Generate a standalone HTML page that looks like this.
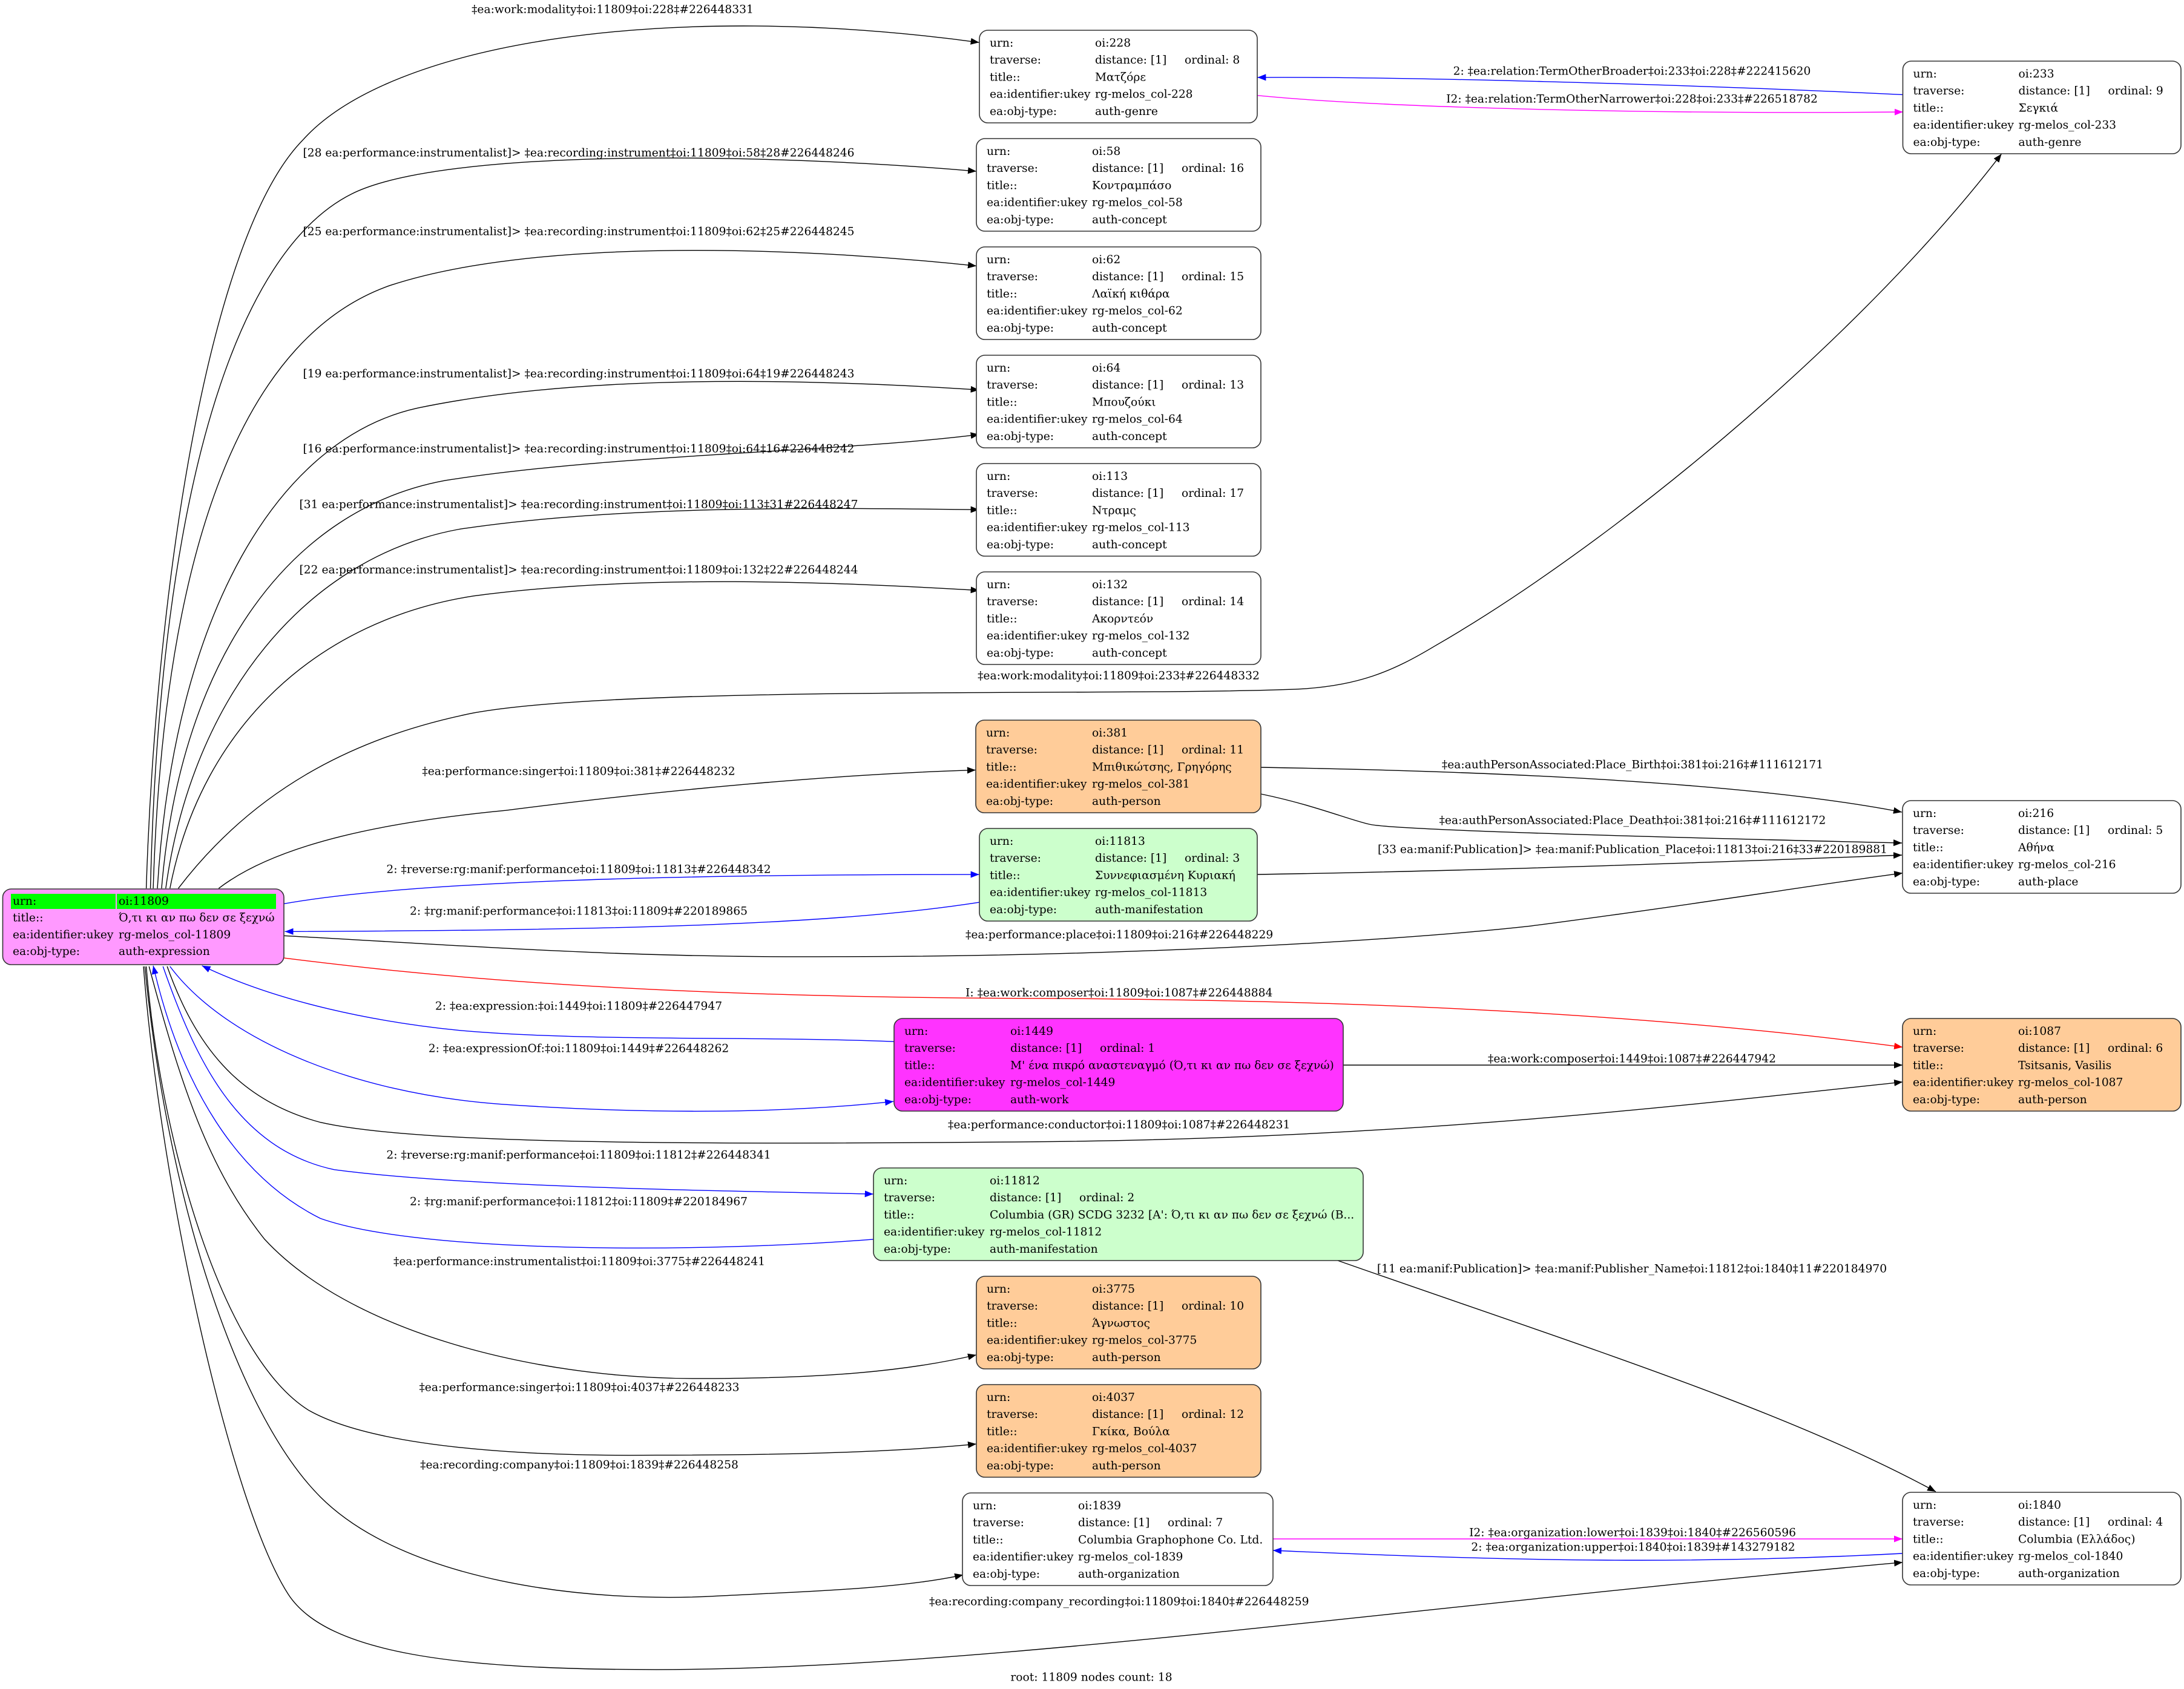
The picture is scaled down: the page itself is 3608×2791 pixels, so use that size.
<!DOCTYPE html>
<html>
<head>
<meta charset="utf-8">
<style>
html,body{margin:0;padding:0;background:#fff;}
svg{display:block;}
text{font-family:"DejaVu Serif","Liberation Serif","Noto Serif CJK SC",serif;font-size:18.67px;fill:#000;}
.lm{text-anchor:middle;}
</style>
</head>
<body>
<svg xmlns="http://www.w3.org/2000/svg" width="3608" height="2791" viewBox="0 0 3608 2791">
<defs>
<marker id="ak" viewBox="0 0 14 11" refX="14" refY="5.5" markerWidth="14" markerHeight="11" orient="auto" markerUnits="userSpaceOnUse"><path d="M0,0 L14,5.5 L0,11 z" fill="#000"/></marker>
<marker id="ab" viewBox="0 0 14 11" refX="14" refY="5.5" markerWidth="14" markerHeight="11" orient="auto" markerUnits="userSpaceOnUse"><path d="M0,0 L14,5.5 L0,11 z" fill="#0000ff"/></marker>
<marker id="am" viewBox="0 0 14 11" refX="14" refY="5.5" markerWidth="14" markerHeight="11" orient="auto" markerUnits="userSpaceOnUse"><path d="M0,0 L14,5.5 L0,11 z" fill="#ff00ff"/></marker>
<marker id="sk" viewBox="0 0 14 11" refX="14" refY="5.5" markerWidth="6.08" markerHeight="4.78" orient="auto" markerUnits="userSpaceOnUse"><path d="M0,0 L14,5.5 L0,11 z" fill="#000"/></marker>
<marker id="sb" viewBox="0 0 14 11" refX="14" refY="5.5" markerWidth="6.08" markerHeight="4.78" orient="auto" markerUnits="userSpaceOnUse"><path d="M0,0 L14,5.5 L0,11 z" fill="#0000ff"/></marker>
<marker id="sm" viewBox="0 0 14 11" refX="14" refY="5.5" markerWidth="6.08" markerHeight="4.78" orient="auto" markerUnits="userSpaceOnUse"><path d="M0,0 L14,5.5 L0,11 z" fill="#ff00ff"/></marker>
<marker id="sr" viewBox="0 0 14 11" refX="14" refY="5.5" markerWidth="6.08" markerHeight="4.78" orient="auto" markerUnits="userSpaceOnUse"><path d="M0,0 L14,5.5 L0,11 z" fill="#ff0000"/></marker>
</defs>

<!-- ============ EDGES (display coords, scaled) ============ -->
<g transform="scale(2.301)" fill="none" stroke-width="0.6">
  <!-- upper fan -->
  <path stroke="#000" marker-end="url(#sk)" d="M105,638 C 112,420 150,170 217,101 C 280,30 480,0 703,30.5"/>
  <path stroke="#000" marker-end="url(#sk)" d="M108,638 C 115,350 170,180 253,139 C 320,106 550,110 701,123"/>
  <path stroke="#000" marker-end="url(#sk)" d="M110,638 C 118,380 180,240 280,205 C 380,172 560,176 701,191"/>
  <path stroke="#000" marker-end="url(#sk)" d="M113,638 C 125,440 200,315 300,293 C 420,268 580,272 703,280"/>
  <path stroke="#000" marker-end="url(#sk)" d="M116,638 C 130,470 210,365 320,345 C 440,326 600,325 703,312"/>
  <path stroke="#000" marker-end="url(#sk)" d="M119,638 C 138,500 220,400 330,380 C 450,362 600,365 703,366"/>
  <path stroke="#000" marker-end="url(#sk)" d="M122,638 C 145,520 230,445 340,428 C 460,412 600,418 703,424"/>
  <path stroke="#000" marker-end="url(#sk)" d="M128,638 C 180,570 250,530 340,512 C 450,492 800,500 930,495 C 975,493 1000,482 1030,464 C 1150,395 1330,250 1437,110.5"/>
  <path stroke="#000" marker-end="url(#sk)" d="M157,638 C 200,605 280,590 363,582 C 480,567 600,556 700.5,553"/>
  <!-- right side of main -->
  <path stroke="#0000ff" marker-end="url(#sb)" d="M204,649 C 300,632 500,628 703,628"/>
  <path stroke="#0000ff" marker-end="url(#sb)" d="M703,648 C 600,664 450,668 204.5,669"/>
  <path stroke="#000" marker-end="url(#sk)" d="M204,672 C 350,680 450,688 600,687 C 800,687 1000,676 1099,665 C 1200,652 1300,636 1366,627"/>
  <path stroke="#ff0000" marker-end="url(#sr)" d="M204,688 C 300,700 450,716 740,717 C 1000,718 1200,730 1366,752"/>
  <!-- lower fan -->
  <path stroke="#0000ff" marker-end="url(#sb)" d="M642,748 C 540,744 420,748 330,740 C 270,734 200,720 145,693.5"/>
  <path stroke="#0000ff" marker-end="url(#sb)" d="M122,694 C 160,745 250,785 360,793 C 460,800 560,800 641.5,791"/>
  <path stroke="#000" marker-end="url(#sk)" d="M120,694 C 140,750 170,790 230,806 C 300,822 500,822 740,820 C 1000,818 1200,795 1366,777"/>
  <path stroke="#0000ff" marker-end="url(#sb)" d="M117,694 C 140,760 170,825 240,840 C 330,852 500,855 627,857.5"/>
  <path stroke="#0000ff" marker-end="url(#sb)" d="M627,890 C 500,900 300,900 230,875 C 170,845 130,780 110,693.5"/>
  <path stroke="#000" marker-end="url(#sk)" d="M107,694 C 130,780 150,840 190,890 C 250,955 380,990 500,990 C 590,990 650,985 701,973"/>
  <path stroke="#000" marker-end="url(#sk)" d="M105,694 C 115,820 160,975 222,1013 C 270,1040 380,1046 471,1045 C 580,1045 650,1042 701,1037"/>
  <path stroke="#000" marker-end="url(#sk)" d="M104,694 C 120,860 170,1015 230,1075 C 290,1135 420,1152 518,1146 C 600,1142 650,1140 691.5,1131"/>
  <path stroke="#000" marker-end="url(#sk)" d="M103,694 C 115,850 165,1080 207,1145 C 235,1188 330,1199 471,1199 C 700,1199 1000,1155 1366,1122"/>
  <!-- 228 / 233 -->
  <path stroke="#0000ff" marker-end="url(#sb)" d="M1366,68 C 1200,60 1000,55 902.8,55.6"/>
  <path stroke="#ff00ff" marker-end="url(#sm)" d="M903,68.6 C 1000,78 1200,82 1366.3,80.4"/>
</g>

<!-- edges in original coords -->
<g fill="none" stroke-width="1.4">
  <path stroke="#000" marker-end="url(#ak)" d="M2083,1268 C 2500,1275 2900,1295 3142,1342"/>
  <path stroke="#000" marker-end="url(#ak)" d="M2083,1312 C 2170,1330 2230,1355 2262,1362 C 2300,1372 2800,1385 3142,1393"/>
  <path stroke="#000" marker-end="url(#ak)" d="M2077,1445 C 2500,1438 2900,1422 3142,1413"/>
  <path stroke="#000" marker-end="url(#ak)" d="M2219,1760 L3143,1760"/>
  <path stroke="#000" marker-end="url(#ak)" d="M2210,2083 C 2600,2220 2950,2330 3198,2465"/>
  <path stroke="#ff00ff" marker-end="url(#am)" d="M2103,2543 L3143,2543"/>
  <path stroke="#0000ff" marker-end="url(#ab)" d="M3143,2567 C 2800,2585 2500,2580 2103,2562"/>
</g>

<!-- ============ NODES ============ -->
<g stroke="#333" stroke-width="1.6">
<!-- main 11809 -->
<g transform="translate(4.5,1469)">
  <rect x="0" y="0" width="464.5" height="125" rx="14" fill="#ff99ff"/>
  <rect x="13.5" y="8" width="173" height="25" fill="#00ff00" stroke="none"/>
  <rect x="188.5" y="8" width="263" height="25" fill="#00ff00" stroke="none"/>
</g>
<rect x="1618" y="50" width="459" height="153" rx="14" fill="#fff"/>
<rect x="1613" y="229" width="470" height="153" rx="14" fill="#fff"/>
<rect x="1613" y="408" width="470" height="153" rx="14" fill="#fff"/>
<rect x="1613" y="587" width="470" height="153" rx="14" fill="#fff"/>
<rect x="1613" y="766" width="470" height="153" rx="14" fill="#fff"/>
<rect x="1613" y="945" width="470" height="153" rx="14" fill="#fff"/>
<rect x="1612" y="1190" width="471" height="153" rx="14" fill="#ffcc99"/>
<rect x="1618" y="1369" width="459" height="153" rx="14" fill="#ccffcc"/>
<rect x="1477" y="1683" width="742" height="153" rx="14" fill="#ff33ff"/>
<rect x="1443" y="1930" width="809" height="153" rx="14" fill="#ccffcc"/>
<rect x="1613" y="2109" width="470" height="153" rx="14" fill="#ffcc99"/>
<rect x="1613" y="2288" width="470" height="153" rx="14" fill="#ffcc99"/>
<rect x="1590" y="2467" width="513" height="153" rx="14" fill="#fff"/>
<rect x="3143.5" y="101" width="459.5" height="153" rx="14" fill="#fff"/>
<rect x="3143" y="1323" width="460" height="153" rx="14" fill="#fff"/>
<rect x="3143" y="1683" width="460" height="153" rx="14" fill="#ffcc99"/>
<rect x="3143" y="2466" width="460" height="153" rx="14" fill="#fff"/>
</g>

<!-- main 11809 text -->
<g transform="translate(4.5,1469)">
  <text x="16.5" y="26">urn:</text><text x="191.5" y="26">oi:11809</text>
  <text x="16.5" y="53.7">title::</text><text x="191.5" y="53.7">Ό,τι κι αν πω δεν σε ξεχνώ</text>
  <text x="16.5" y="81.4">ea:identifier:ukey</text><text x="191.5" y="81.4">rg-melos_col-11809</text>
  <text x="16.5" y="109">ea:obj-type:</text><text x="191.5" y="109">auth-expression</text>
</g>

<!-- 228 -->
<g transform="translate(1618,50)">
  <text x="17" y="27">urn:</text><text x="191" y="27">oi:228</text>
  <text x="17" y="55.2">traverse:</text><text x="191" y="55.2">distance: [1]</text><text x="339" y="55.2">ordinal: 8</text>
  <text x="17" y="83.4">title::</text><text x="191" y="83.4">Ματζόρε</text>
  <text x="17" y="111.6">ea:identifier:ukey</text><text x="191" y="111.6">rg-melos_col-228</text>
  <text x="17" y="139.8">ea:obj-type:</text><text x="191" y="139.8">auth-genre</text>
</g>

<!-- 58 -->
<g transform="translate(1613,229)">
  <text x="17" y="27">urn:</text><text x="191" y="27">oi:58</text>
  <text x="17" y="55.2">traverse:</text><text x="191" y="55.2">distance: [1]</text><text x="339" y="55.2">ordinal: 16</text>
  <text x="17" y="83.4">title::</text><text x="191" y="83.4">Κοντραμπάσο</text>
  <text x="17" y="111.6">ea:identifier:ukey</text><text x="191" y="111.6">rg-melos_col-58</text>
  <text x="17" y="139.8">ea:obj-type:</text><text x="191" y="139.8">auth-concept</text>
</g>

<!-- 62 -->
<g transform="translate(1613,408)">
  <text x="17" y="27">urn:</text><text x="191" y="27">oi:62</text>
  <text x="17" y="55.2">traverse:</text><text x="191" y="55.2">distance: [1]</text><text x="339" y="55.2">ordinal: 15</text>
  <text x="17" y="83.4">title::</text><text x="191" y="83.4">Λαϊκή κιθάρα</text>
  <text x="17" y="111.6">ea:identifier:ukey</text><text x="191" y="111.6">rg-melos_col-62</text>
  <text x="17" y="139.8">ea:obj-type:</text><text x="191" y="139.8">auth-concept</text>
</g>

<!-- 64 -->
<g transform="translate(1613,587)">
  <text x="17" y="27">urn:</text><text x="191" y="27">oi:64</text>
  <text x="17" y="55.2">traverse:</text><text x="191" y="55.2">distance: [1]</text><text x="339" y="55.2">ordinal: 13</text>
  <text x="17" y="83.4">title::</text><text x="191" y="83.4">Μπουζούκι</text>
  <text x="17" y="111.6">ea:identifier:ukey</text><text x="191" y="111.6">rg-melos_col-64</text>
  <text x="17" y="139.8">ea:obj-type:</text><text x="191" y="139.8">auth-concept</text>
</g>

<!-- 113 -->
<g transform="translate(1613,766)">
  <text x="17" y="27">urn:</text><text x="191" y="27">oi:113</text>
  <text x="17" y="55.2">traverse:</text><text x="191" y="55.2">distance: [1]</text><text x="339" y="55.2">ordinal: 17</text>
  <text x="17" y="83.4">title::</text><text x="191" y="83.4">Ντραμς</text>
  <text x="17" y="111.6">ea:identifier:ukey</text><text x="191" y="111.6">rg-melos_col-113</text>
  <text x="17" y="139.8">ea:obj-type:</text><text x="191" y="139.8">auth-concept</text>
</g>

<!-- 132 -->
<g transform="translate(1613,945)">
  <text x="17" y="27">urn:</text><text x="191" y="27">oi:132</text>
  <text x="17" y="55.2">traverse:</text><text x="191" y="55.2">distance: [1]</text><text x="339" y="55.2">ordinal: 14</text>
  <text x="17" y="83.4">title::</text><text x="191" y="83.4">Ακορντεόν</text>
  <text x="17" y="111.6">ea:identifier:ukey</text><text x="191" y="111.6">rg-melos_col-132</text>
  <text x="17" y="139.8">ea:obj-type:</text><text x="191" y="139.8">auth-concept</text>
</g>

<!-- 381 -->
<g transform="translate(1612,1190)">
  <text x="17" y="27">urn:</text><text x="192" y="27">oi:381</text>
  <text x="17" y="55.2">traverse:</text><text x="192" y="55.2">distance: [1]</text><text x="340" y="55.2">ordinal: 11</text>
  <text x="17" y="83.4">title::</text><text x="192" y="83.4">Μπιθικώτσης, Γρηγόρης</text>
  <text x="17" y="111.6">ea:identifier:ukey</text><text x="192" y="111.6">rg-melos_col-381</text>
  <text x="17" y="139.8">ea:obj-type:</text><text x="192" y="139.8">auth-person</text>
</g>

<!-- 11813 -->
<g transform="translate(1618,1369)">
  <text x="17" y="27">urn:</text><text x="191" y="27">oi:11813</text>
  <text x="17" y="55.2">traverse:</text><text x="191" y="55.2">distance: [1]</text><text x="339" y="55.2">ordinal: 3</text>
  <text x="17" y="83.4">title::</text><text x="191" y="83.4">Συννεφιασμένη Κυριακή</text>
  <text x="17" y="111.6">ea:identifier:ukey</text><text x="191" y="111.6">rg-melos_col-11813</text>
  <text x="17" y="139.8">ea:obj-type:</text><text x="191" y="139.8">auth-manifestation</text>
</g>

<!-- 1449 -->
<g transform="translate(1477,1683)">
  <text x="17" y="27">urn:</text><text x="192" y="27">oi:1449</text>
  <text x="17" y="55.2">traverse:</text><text x="192" y="55.2">distance: [1]</text><text x="340" y="55.2">ordinal: 1</text>
  <text x="17" y="83.4">title::</text><text x="192" y="83.4">Μ' ένα πικρό αναστεναγμό (Ό,τι κι αν πω δεν σε ξεχνώ)</text>
  <text x="17" y="111.6">ea:identifier:ukey</text><text x="192" y="111.6">rg-melos_col-1449</text>
  <text x="17" y="139.8">ea:obj-type:</text><text x="192" y="139.8">auth-work</text>
</g>

<!-- 11812 -->
<g transform="translate(1443,1930)">
  <text x="17" y="27">urn:</text><text x="192" y="27">oi:11812</text>
  <text x="17" y="55.2">traverse:</text><text x="192" y="55.2">distance: [1]</text><text x="340" y="55.2">ordinal: 2</text>
  <text x="17" y="83.4">title::</text><text x="192" y="83.4">Columbia (GR) SCDG 3232 [A': Ό,τι κι αν πω δεν σε ξεχνώ (B...</text>
  <text x="17" y="111.6">ea:identifier:ukey</text><text x="192" y="111.6">rg-melos_col-11812</text>
  <text x="17" y="139.8">ea:obj-type:</text><text x="192" y="139.8">auth-manifestation</text>
</g>

<!-- 3775 -->
<g transform="translate(1613,2109)">
  <text x="17" y="27">urn:</text><text x="191" y="27">oi:3775</text>
  <text x="17" y="55.2">traverse:</text><text x="191" y="55.2">distance: [1]</text><text x="339" y="55.2">ordinal: 10</text>
  <text x="17" y="83.4">title::</text><text x="191" y="83.4">Άγνωστος</text>
  <text x="17" y="111.6">ea:identifier:ukey</text><text x="191" y="111.6">rg-melos_col-3775</text>
  <text x="17" y="139.8">ea:obj-type:</text><text x="191" y="139.8">auth-person</text>
</g>

<!-- 4037 -->
<g transform="translate(1613,2288)">
  <text x="17" y="27">urn:</text><text x="191" y="27">oi:4037</text>
  <text x="17" y="55.2">traverse:</text><text x="191" y="55.2">distance: [1]</text><text x="339" y="55.2">ordinal: 12</text>
  <text x="17" y="83.4">title::</text><text x="191" y="83.4">Γκίκα, Βούλα</text>
  <text x="17" y="111.6">ea:identifier:ukey</text><text x="191" y="111.6">rg-melos_col-4037</text>
  <text x="17" y="139.8">ea:obj-type:</text><text x="191" y="139.8">auth-person</text>
</g>

<!-- 1839 -->
<g transform="translate(1590,2467)">
  <text x="17" y="27">urn:</text><text x="191" y="27">oi:1839</text>
  <text x="17" y="55.2">traverse:</text><text x="191" y="55.2">distance: [1]</text><text x="339" y="55.2">ordinal: 7</text>
  <text x="17" y="83.4">title::</text><text x="191" y="83.4">Columbia Graphophone Co. Ltd.</text>
  <text x="17" y="111.6">ea:identifier:ukey</text><text x="191" y="111.6">rg-melos_col-1839</text>
  <text x="17" y="139.8">ea:obj-type:</text><text x="191" y="139.8">auth-organization</text>
</g>

<!-- 233 -->
<g transform="translate(3143.5,101)">
  <text x="17" y="27">urn:</text><text x="191" y="27">oi:233</text>
  <text x="17" y="55.2">traverse:</text><text x="191" y="55.2">distance: [1]</text><text x="339" y="55.2">ordinal: 9</text>
  <text x="17" y="83.4">title::</text><text x="191" y="83.4">Σεγκιά</text>
  <text x="17" y="111.6">ea:identifier:ukey</text><text x="191" y="111.6">rg-melos_col-233</text>
  <text x="17" y="139.8">ea:obj-type:</text><text x="191" y="139.8">auth-genre</text>
</g>

<!-- 216 -->
<g transform="translate(3143,1323)">
  <text x="17" y="27">urn:</text><text x="191" y="27">oi:216</text>
  <text x="17" y="55.2">traverse:</text><text x="191" y="55.2">distance: [1]</text><text x="339" y="55.2">ordinal: 5</text>
  <text x="17" y="83.4">title::</text><text x="191" y="83.4">Αθήνα</text>
  <text x="17" y="111.6">ea:identifier:ukey</text><text x="191" y="111.6">rg-melos_col-216</text>
  <text x="17" y="139.8">ea:obj-type:</text><text x="191" y="139.8">auth-place</text>
</g>

<!-- 1087 -->
<g transform="translate(3143,1683)">
  <text x="17" y="27">urn:</text><text x="191" y="27">oi:1087</text>
  <text x="17" y="55.2">traverse:</text><text x="191" y="55.2">distance: [1]</text><text x="339" y="55.2">ordinal: 6</text>
  <text x="17" y="83.4">title::</text><text x="191" y="83.4">Tsitsanis, Vasilis</text>
  <text x="17" y="111.6">ea:identifier:ukey</text><text x="191" y="111.6">rg-melos_col-1087</text>
  <text x="17" y="139.8">ea:obj-type:</text><text x="191" y="139.8">auth-person</text>
</g>

<!-- 1840 -->
<g transform="translate(3143,2466)">
  <text x="17" y="27">urn:</text><text x="191" y="27">oi:1840</text>
  <text x="17" y="55.2">traverse:</text><text x="191" y="55.2">distance: [1]</text><text x="339" y="55.2">ordinal: 4</text>
  <text x="17" y="83.4">title::</text><text x="191" y="83.4">Columbia (Ελλάδος)</text>
  <text x="17" y="111.6">ea:identifier:ukey</text><text x="191" y="111.6">rg-melos_col-1840</text>
  <text x="17" y="139.8">ea:obj-type:</text><text x="191" y="139.8">auth-organization</text>
</g>

<!-- ============ EDGE LABELS ============ -->
<text class="lm" x="1012" y="21.5">‡ea:work:modality‡oi:11809‡oi:228‡#226448331</text>
<text class="lm" x="956" y="258.5">[28 ea:performance:instrumentalist]&gt; ‡ea:recording:instrument‡oi:11809‡oi:58‡28#226448246</text>
<text class="lm" x="956" y="388.5">[25 ea:performance:instrumentalist]&gt; ‡ea:recording:instrument‡oi:11809‡oi:62‡25#226448245</text>
<text class="lm" x="956" y="623.5">[19 ea:performance:instrumentalist]&gt; ‡ea:recording:instrument‡oi:11809‡oi:64‡19#226448243</text>
<text class="lm" x="956" y="747.5">[16 ea:performance:instrumentalist]&gt; ‡ea:recording:instrument‡oi:11809‡oi:64‡16#226448242</text>
<text class="lm" x="956" y="839.5">[31 ea:performance:instrumentalist]&gt; ‡ea:recording:instrument‡oi:11809‡oi:113‡31#226448247</text>
<text class="lm" x="956" y="947.5">[22 ea:performance:instrumentalist]&gt; ‡ea:recording:instrument‡oi:11809‡oi:132‡22#226448244</text>
<text class="lm" x="1848" y="1122.5">‡ea:work:modality‡oi:11809‡oi:233‡#226448332</text>
<text class="lm" x="956" y="1280.5">‡ea:performance:singer‡oi:11809‡oi:381‡#226448232</text>
<text class="lm" x="956" y="1442.5">2: ‡reverse:rg:manif:performance‡oi:11809‡oi:11813‡#226448342</text>
<text class="lm" x="956" y="1511.5">2: ‡rg:manif:performance‡oi:11813‡oi:11809‡#220189865</text>
<text x="1595" y="1550.5">‡ea:performance:place‡oi:11809‡oi:216‡#226448229</text>
<text x="1595" y="1646.5">I: ‡ea:work:composer‡oi:11809‡oi:1087‡#226448884</text>
<text class="lm" x="956" y="1668.5">2: ‡ea:expression:‡oi:1449‡oi:11809‡#226447947</text>
<text class="lm" x="956" y="1738.5">2: ‡ea:expressionOf:‡oi:11809‡oi:1449‡#226448262</text>
<text x="1566" y="1864.5">‡ea:performance:conductor‡oi:11809‡oi:1087‡#226448231</text>
<text class="lm" x="956" y="1914.5">2: ‡reverse:rg:manif:performance‡oi:11809‡oi:11812‡#226448341</text>
<text class="lm" x="956" y="1991.5">2: ‡rg:manif:performance‡oi:11812‡oi:11809‡#220184967</text>
<text class="lm" x="957" y="2090.5">‡ea:performance:instrumentalist‡oi:11809‡oi:3775‡#226448241</text>
<text class="lm" x="957" y="2298.5">‡ea:performance:singer‡oi:11809‡oi:4037‡#226448233</text>
<text class="lm" x="957" y="2426.5">‡ea:recording:company‡oi:11809‡oi:1839‡#226448258</text>
<text x="1535" y="2652.5">‡ea:recording:company_recording‡oi:11809‡oi:1840‡#226448259</text>

<text class="lm" x="2696" y="123.5">2: ‡ea:relation:TermOtherBroader‡oi:233‡oi:228‡#222415620</text>
<text class="lm" x="2696" y="169.5">I2: ‡ea:relation:TermOtherNarrower‡oi:228‡oi:233‡#226518782</text>
<text class="lm" x="2697" y="1269.5">‡ea:authPersonAssociated:Place_Birth‡oi:381‡oi:216‡#111612171</text>
<text class="lm" x="2697" y="1361.5">‡ea:authPersonAssociated:Place_Death‡oi:381‡oi:216‡#111612172</text>
<text class="lm" x="2697" y="1409.5">[33 ea:manif:Publication]&gt; ‡ea:manif:Publication_Place‡oi:11813‡oi:216‡33#220189881</text>
<text class="lm" x="2696" y="1755.5">‡ea:work:composer‡oi:1449‡oi:1087‡#226447942</text>
<text class="lm" x="2696" y="2102.5">[11 ea:manif:Publication]&gt; ‡ea:manif:Publisher_Name‡oi:11812‡oi:1840‡11#220184970</text>
<text class="lm" x="2697" y="2538.5">I2: ‡ea:organization:lower‡oi:1839‡oi:1840‡#226560596</text>
<text class="lm" x="2698" y="2562.5">2: ‡ea:organization:upper‡oi:1840‡oi:1839‡#143279182</text>

<text class="lm" x="1803" y="2777.5">root: 11809 nodes count: 18</text>
</svg>
</body>
</html>
